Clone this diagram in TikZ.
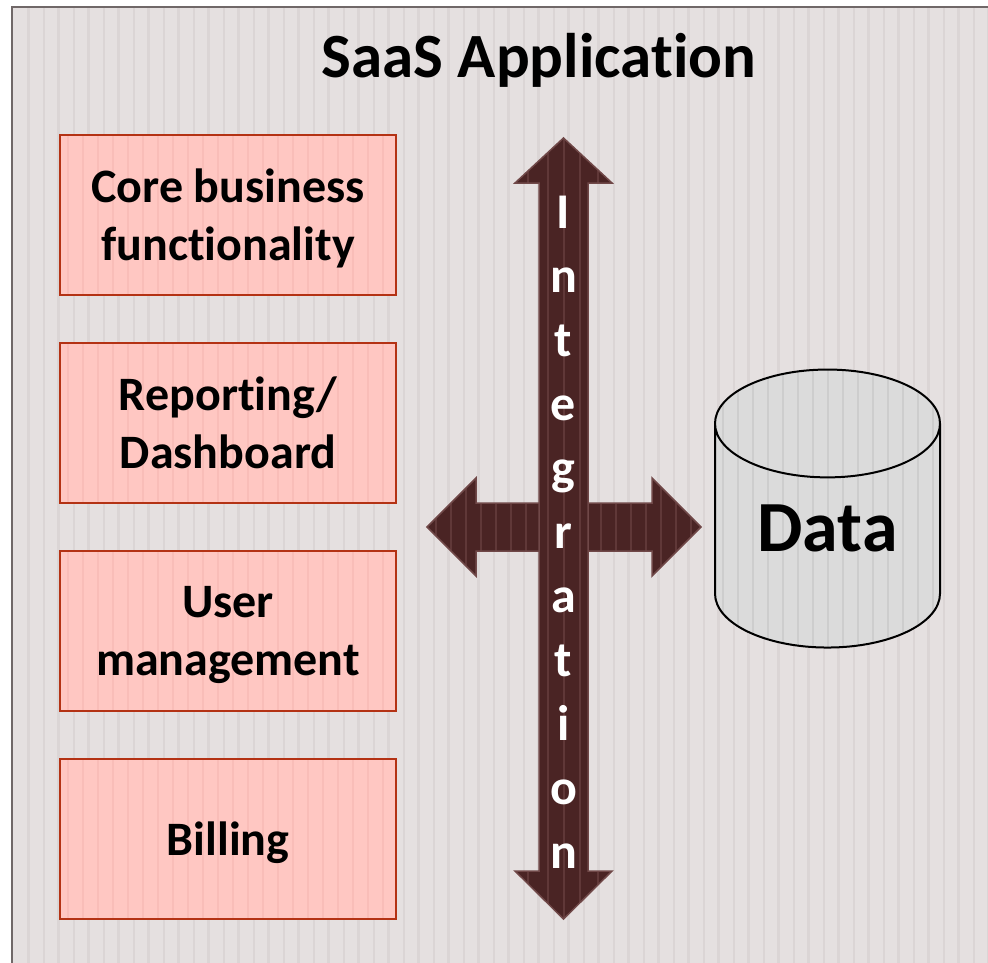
\documentclass[tikz,border=0pt]{standalone}
\usepackage{fontspec}
\setmainfont{Carlito}[Ligatures=NoCommon]
\usepackage{tikz}
\usetikzlibrary{shapes.geometric}

\begin{document}
\begin{tikzpicture}[x=1pt,y=-1pt]

	\definecolor{bggray}{RGB}{229,224,224}
	\definecolor{bgstripe}{RGB}{219,213,213}
	\definecolor{framegray}{RGB}{112,104,104}
	\definecolor{boxpink}{RGB}{255,199,194}
	\definecolor{boxstripe}{RGB}{249,189,184}
	\definecolor{boxred}{RGB}{180,50,20}
	\definecolor{darkbrown}{RGB}{74,36,36}
	\definecolor{brownedge}{RGB}{112,72,72}
	\definecolor{brownstripe}{RGB}{96,56,56}
	\definecolor{datagray}{RGB}{219,219,219}
	\definecolor{datastripe}{RGB}{205,205,205}

	\tikzset{stripy/.style = {path picture={
		\foreach \k in {0,...,24}
			\draw[#1, line width=2] ([xshift=\k*15+8]path picture bounding box.north west) -- ([xshift=\k*15+8]path picture bounding box.south west);}}}
	\tikzset{module/.style = {shape=rectangle, draw=boxred, fill=boxpink, stripy=boxstripe, line width=2, minimum width=336, minimum height=160, inner sep=0, text depth=0, align=center, font=\fontsize{48}{58}\selectfont\bfseries}}
	\tikzset{bigarrow/.style = {draw=brownedge, fill=darkbrown, line width=1.5, line join=miter}}

	\useasboundingbox (0,0) rectangle (988,963);
	\fill[white] (0,0) rectangle (988,963);
	\fill[bggray] (12,7) rectangle (990,965);
	\foreach \sx in {28,58,...,988} \draw[bgstripe, line width=3] (\sx,8) -- (\sx,963);
	\foreach \sx in {44,74,...,988} \draw[bgstripe, line width=1.2] (\sx,8) -- (\sx,963);
	\draw[framegray, line width=2.5] (12,965) -- (12,7) -- (990,7);

	\node[font=\fontsize{63}{70}\selectfont\bfseries, anchor=base] (title) at (539,78) {SaaS Application};

	\node[module] (core) at (228,215) {Core business\\functionality};
	\node[module] (report) at (228,423) {Reporting/\\Dashboard};
	\node[module] (users) at (228,631) {User\\management};
	\node[module] (billing) at (228,839) {Billing};

	% integration arrows
	\draw[bigarrow, path picture={\foreach \sx in {436,451,...,700} \draw[brownstripe, line width=2] (\sx,470) -- (\sx,590);}]
		(427,527) -- (476,478) -- (476,503) -- (652,503) -- (652,478) -- (701,527)
		-- (652,576) -- (652,551) -- (476,551) -- (476,576) -- cycle;
	\draw[bigarrow, path picture={\foreach \sx in {528,548,564,580,598} \draw[brownstripe, line width=2] (\sx,130) -- (\sx,925);}]
		(563.5,138) -- (612,183) -- (588,183) -- (588,871) -- (612,871) -- (563.5,919)
		-- (515,871) -- (539,871) -- (539,183) -- (515,183) -- cycle;
	\node[text=white, font=\fontsize{50}{64}\selectfont\bfseries, align=center, inner sep=0, anchor=north] (integ) at (563.5,196)
		{I\\n\\t\\e\\g\\r\\a\\t\\i\\o\\n};

	\node[cylinder, shape border rotate=90, draw=black, fill=datagray, stripy=datastripe, line width=2, aspect=0.77,
		minimum width=225, minimum height=278, inner sep=0, text depth=16, font=\fontsize{72}{80}\selectfont\bfseries] (data) at (827.5,536) {Data};

\end{tikzpicture}
\end{document}
